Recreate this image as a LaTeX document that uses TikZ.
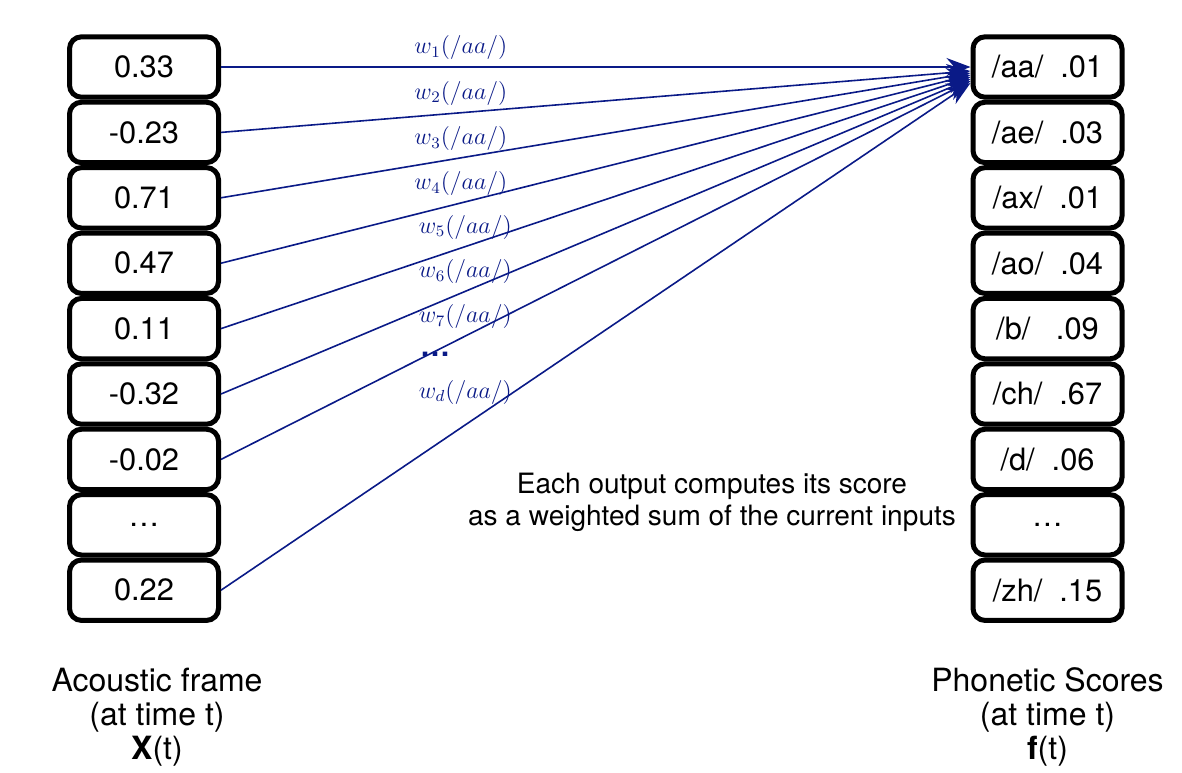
\documentclass[tikz,border=0pt]{standalone}
\usepackage{fontspec}
\setmainfont{TeX Gyre Heros}
\usetikzlibrary{positioning,arrows.meta}
\definecolor{wire}{RGB}{10,26,135}
\tikzstyle{cell} = [draw, line width=2.5pt, rounded corners=6pt, minimum width=74.5pt, minimum height=30.2pt, font=\fontsize{15.4}{18}\selectfont]
\tikzstyle{weight} = [draw=wire, line width=0.8pt, -{Stealth[length=12pt,width=9pt]}]
\tikzstyle{wlabel} = [text=wire, font=\fontsize{12}{14}\selectfont]
\tikzstyle{caption} = [align=center, font=\fontsize{16}{17}\selectfont]
\newcommand{\phone}[2]{/#1/\hspace{.55em}#2}

\begin{document}
\begin{tikzpicture}[node distance=0pt]
                    \useasboundingbox (0,0) rectangle (591pt,-386pt);

                    % acoustic frame
                    \node[cell] (x1) at (72pt,-33.5pt) {0.33};
                    \node[cell, below=of x1] (x2) {-0.23};
                    \node[cell, below=of x2] (x3) {0.71};
                    \node[cell, below=of x3] (x4) {0.47};
                    \node[cell, below=of x4] (x5) {0.11};
                    \node[cell, below=of x5] (x6) {-0.32};
                    \node[cell, below=of x6] (x7) {-0.02};
                    \node[cell, below=of x7] (x8) {\dots};
                    \node[cell, below=of x8] (x9) {0.22};
                    \node[caption, below=19pt of x9, xshift=6.5pt] (frame) {Acoustic frame\\(at time t)\\\textbf{X}(t)};

                    % phonetic scores
                    \node[cell] (aa) at (523.75pt,-33.5pt) {\phone{aa}{.01}};
                    \node[cell, below=of aa] (ae) {\phone{ae}{.03}};
                    \node[cell, below=of ae] (ax) {\phone{ax}{.01}};
                    \node[cell, below=of ax] (ao) {\phone{ao}{.04}};
                    \node[cell, below=of ao] (b) {\phone{b}{\ .09}};
                    \node[cell, below=of b] (ch) {\phone{ch}{.67}};
                    \node[cell, below=of ch] (d) {\phone{d}{.06}};
                    \node[cell, below=of d] (more) {\dots};
                    \node[cell, below=of more] (zh) {\phone{zh}{.15}};
                    \node[caption, below=19pt of zh] (scores) {Phonetic Scores\\(at time t)\\\textbf{f}(t)};

                    % weights
                    \draw[weight] (x1.east) -- node[wlabel, above, pos=.32] (w1) {$w_1(/aa/)$} (aa.west);
                    \draw[weight] (x2.east) -- node[wlabel, above, pos=.32] (w2) {$w_2(/aa/)$} ([yshift=-2pt]aa.west);
                    \draw[weight] (x3.east) -- node[wlabel, above, pos=.32] (w3) {$w_3(/aa/)$} ([yshift=-3pt]aa.west);
                    \draw[weight] (x4.east) -- node[wlabel, above, pos=.32] (w4) {$w_4(/aa/)$} ([yshift=-4pt]aa.west);
                    \draw[weight] (x5.east) -- node[wlabel, above, pos=.326] (w5) {$w_5(/aa/)$} ([yshift=-5pt]aa.west);
                    \draw[weight] (x6.east) -- node[wlabel, above, pos=.326] (w6) {$w_6(/aa/)$} ([yshift=-6pt]aa.west);
                    \draw[weight] (x7.east) -- node[wlabel, above, pos=.326] (w7) {$w_7(/aa/)$} ([yshift=-7pt]aa.west);
                    \draw[weight] (x9.east) -- node[wlabel, above=6.5pt, pos=.326] (wd) {$w_d(/aa/)$} ([yshift=-8pt]aa.west);
                    \node[text=wire, font=\fontsize{15}{16}\selectfont\bfseries] (dots) at (217.5pt,-177pt) {\dots};

                    \node[align=center, font=\fontsize{14}{16}\selectfont] (note) at (356pt,-251pt) {Each output computes its score\\as a weighted sum of the current inputs};
\end{tikzpicture}
\end{document}
